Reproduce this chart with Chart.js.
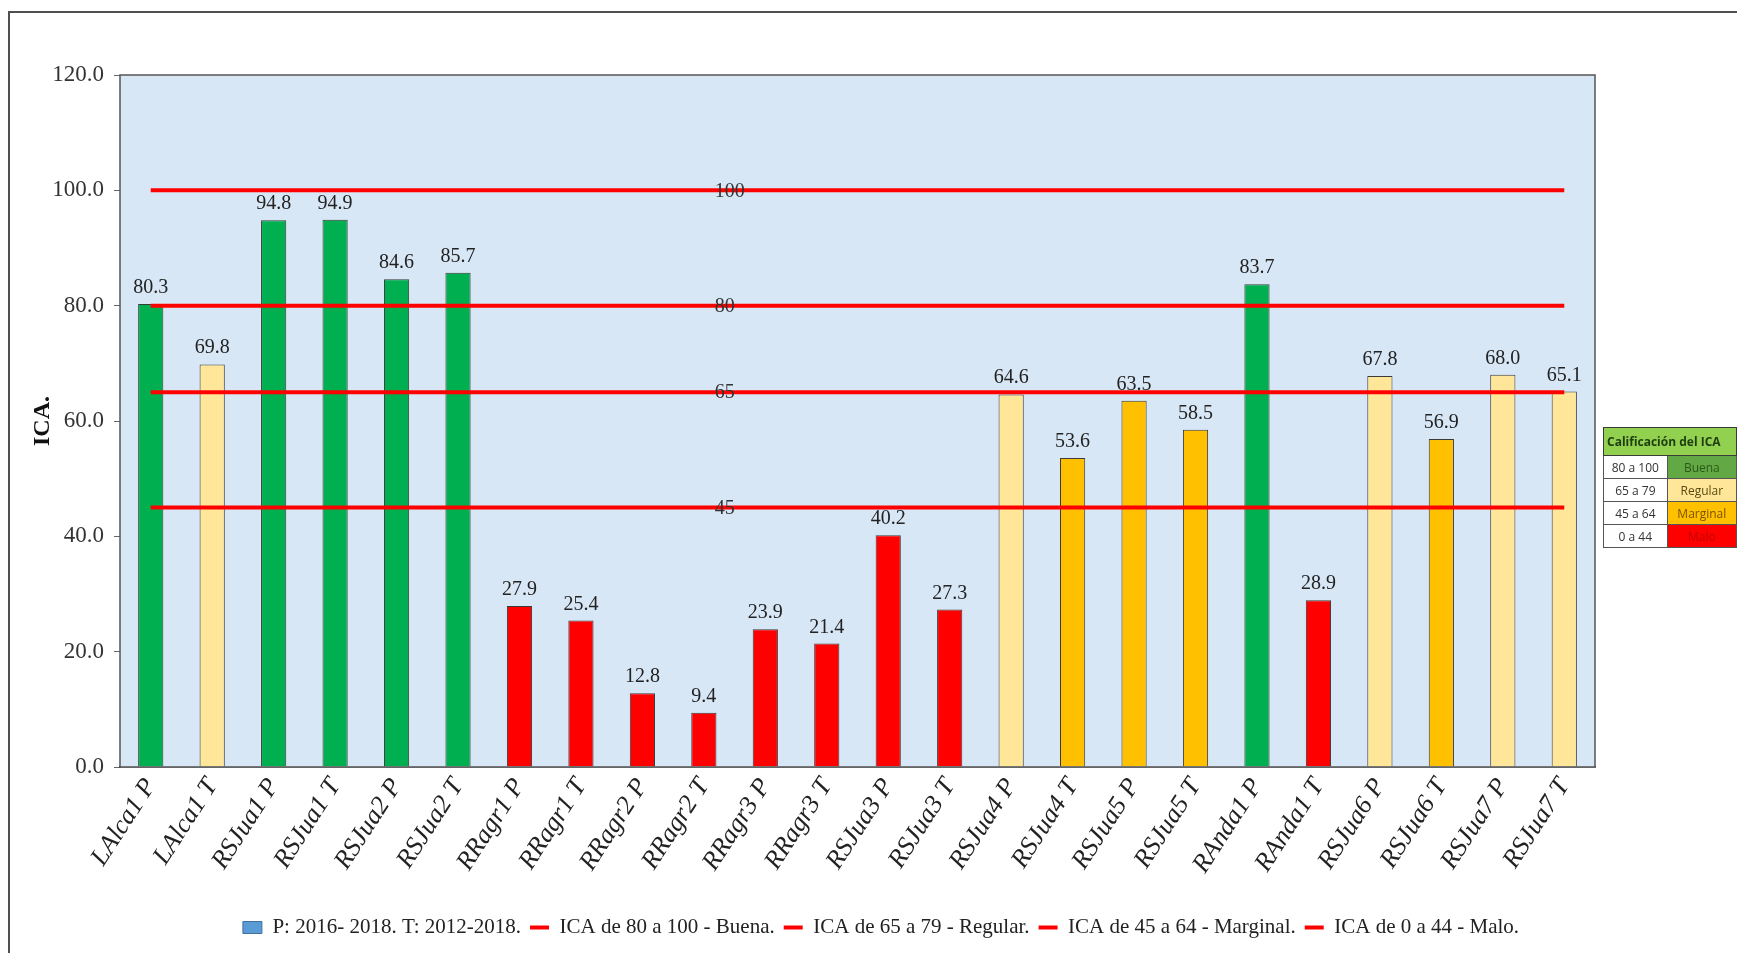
<!DOCTYPE html>
<html>
<head>
<meta charset="utf-8">
<title>ICA</title>
<script src="https://cdn.jsdelivr.net/npm/chart.js@4.4.0/dist/chart.umd.min.js"></script>
<style>
  html, body { margin: 0; padding: 0; background: #fff; overflow: hidden; width: 1737px; height: 953px; }
  #frame { position: absolute; left: 8px; top: 11px; width: 2000px; height: 2000px; border: 2px solid #505050; }
  #wrap { position: absolute; left: 0; top: 0; width: 1737px; height: 953px; }
  #calif { position: absolute; left: 1603px; top: 427px; border-collapse: collapse; table-layout: fixed;
           font-family: "Open Sans", "Liberation Sans", sans-serif; font-size: 12px; color: #333; }
  #calif th { background: #92d050; color: #1e3d10; height: 27px; padding: 0 3px; text-align: left;
              border: 1.5px solid #3a3a3a; white-space: nowrap; font-weight: bold; }
  #calif td { height: 22px; border: 1px solid #555; text-align: center; padding: 0; white-space: nowrap; background: #fff; }
  #calif td.c0 { width: 72px; }
  #calif td.c1 { width: 80px; }
  #calif td.buena { background: #62a844; color: #2d5a1a; }
  #calif td.regular { background: #ffe699; color: #5a4a10; }
  #calif td.marginal { background: #ffc000; color: #7a5200; }
  #calif td.malo { background: #ff0000; color: #c00000; }
</style>
</head>
<body>
<div id="frame"></div>
<div id="wrap"><canvas id="mainChart"></canvas></div>
<table id="calif"></table>
<script>
// stations (P: 2016-2018, T: 2012-2018)
const categories = ['LAlca1 P', 'LAlca1 T', 'RSJua1 P', 'RSJua1 T', 'RSJua2 P', 'RSJua2 T',
  'RRagr1 P', 'RRagr1 T', 'RRagr2 P', 'RRagr2 T', 'RRagr3 P', 'RRagr3 T',
  'RSJua3 P', 'RSJua3 T', 'RSJua4 P', 'RSJua4 T', 'RSJua5 P', 'RSJua5 T',
  'RAnda1 P', 'RAnda1 T', 'RSJua6 P', 'RSJua6 T', 'RSJua7 P', 'RSJua7 T'];
const icaValues = [80.3, 69.8, 94.8, 94.9, 84.6, 85.7,
  27.9, 25.4, 12.8, 9.4, 23.9, 21.4,
  40.2, 27.3, 64.6, 53.6, 63.5, 58.5,
  83.7, 28.9, 67.8, 56.9, 68.0, 65.1];
const seriesName = 'P: 2016- 2018. T: 2012-2018.';

const thresholds = [100, 80, 65, 45];
const thresholdNames = ['ICA de 80 a 100 - Buena.', 'ICA de 65 a 79 - Regular.',
  'ICA de 45 a 64 - Marginal.', 'ICA de 0 a 44 - Malo.'];
const thresholdLabelAt = 9;

const ratingRanges = ['80 a 100', '65 a 79', '45 a 64', '0 a 44'];
const ratingNames = ['Buena', 'Regular', 'Marginal', 'Malo'];

function ratingColor(v) {
  var r = Math.round(v);
  if (r >= 80) return '#00b050';
  if (r >= 65) return '#ffe699';
  if (r >= 45) return '#ffc000';
  return '#ff0000';
}

// side table
var tbl = document.getElementById('calif');
var html = '<tr><th colspan="2">Calificación del ICA</th></tr>';
for (var i = 0; i < ratingRanges.length; i++) {
  html += '<tr><td class="c0">' + ratingRanges[i] + '</td><td class="c1 ' +
    ratingNames[i].toLowerCase() + '">' + ratingNames[i] + '</td></tr>';
}
tbl.innerHTML = html;

const datasets = [{
  type: 'bar',
  label: seriesName,
  data: icaValues,
  backgroundColor: icaValues.map(ratingColor),
  borderColor: '#3a3a3a',
  borderWidth: 1,
  barPercentage: 0.41,
  categoryPercentage: 1,
  order: 2
}];
thresholds.forEach(function(t, k) {
  datasets.push({
    type: 'line',
    label: thresholdNames[k],
    data: categories.map(function() { return t; }),
    borderColor: '#ff0000',
    borderWidth: 4,
    pointRadius: 0,
    tension: 0,
    order: 1
  });
});

const plotBox = {
  id: 'plotBox',
  beforeDatasetsDraw: function(chart) {
    var a = chart.chartArea, ctx = chart.ctx;
    ctx.save();
    ctx.fillStyle = '#d8e7f6';
    ctx.fillRect(a.left, a.top, a.right - a.left, a.bottom - a.top);
    ctx.restore();
  },
  afterDraw: function(chart) {
    var a = chart.chartArea, ctx = chart.ctx;
    ctx.save();
    ctx.strokeStyle = '#555';
    ctx.lineWidth = 1.5;
    ctx.strokeRect(a.left, a.top, a.right - a.left, a.bottom - a.top);
    ctx.restore();
  }
};

const valueLabels = {
  id: 'valueLabels',
  afterDatasetsDraw: function(chart) {
    var ctx = chart.ctx;
    ctx.save();
    ctx.font = '20px "Liberation Serif"';
    ctx.fillStyle = '#222';
    ctx.textAlign = 'center';
    ctx.textBaseline = 'alphabetic';
    chart.getDatasetMeta(0).data.forEach(function(bar, i) {
      ctx.fillText(icaValues[i].toFixed(1), bar.x, bar.y - 11);
    });
    ctx.textAlign = 'left';
    ctx.textBaseline = 'middle';
    ctx.fillStyle = '#333';
    thresholds.forEach(function(t, k) {
      var pt = chart.getDatasetMeta(k + 1).data[thresholdLabelAt];
      ctx.fillText(String(t), pt.x + 11, pt.y + 1);
    });
    ctx.restore();
  }
};

Chart.defaults.font.family = '"Liberation Serif", "Times New Roman", serif';
Chart.defaults.color = '#222';

const myChart = new Chart(document.getElementById('mainChart'), {
  data: { labels: categories, datasets: datasets },
  options: {
    responsive: true,
    maintainAspectRatio: false,
    animation: false,
    layout: { padding: { left: 25, right: 0, top: 75, bottom: 5 } },
    plugins: {
      tooltip: { enabled: false },
      legend: {
        position: 'bottom',
        labels: {
          font: { size: 21 },
          color: '#222',
          usePointStyle: true,
          pointStyleWidth: 19,
          boxHeight: 12,
          padding: 9,
          generateLabels: function(chart) {
            return chart.data.datasets.map(function(ds, i) {
              var isBar = ds.type === 'bar';
              return {
                text: ds.label,
                fillStyle: isBar ? '#5b9bd5' : '#ff0000',
                strokeStyle: isBar ? '#41719c' : '#ff0000',
                lineWidth: isBar ? 1 : 4,
                pointStyle: isBar ? 'rect' : 'line',
                hidden: false,
                datasetIndex: i,
                fontColor: '#222'
              };
            });
          }
        }
      }
    },
    scales: {
      x: {
        grid: { display: false, drawTicks: false },
        border: { display: true, color: '#333', width: 1.5 },
        ticks: {
          autoSkip: false,
          maxRotation: 57,
          minRotation: 57,
          padding: 6,
          color: '#222',
          font: { size: 26, style: 'italic' }
        },
        afterFit: function(s) { s.height = 141; }
      },
      y: {
        min: 0,
        max: 120,
        ticks: {
          stepSize: 20,
          padding: 10,
          color: '#333',
          font: { size: 23 },
          callback: function(v) { return Number(v).toFixed(1); }
        },
        grid: { drawOnChartArea: false, drawTicks: true, tickLength: 6, color: '#666' },
        border: { color: '#555' },
        title: {
          display: true,
          text: 'ICA.',
          color: '#111',
          padding: { top: 3, bottom: 4 },
          font: { size: 24, weight: 'bold' }
        },
        afterFit: function(s) { s.width = 95; }
      },
      y2: {
        position: 'right',
        ticks: { display: false },
        grid: { display: false },
        border: { display: false },
        afterFit: function(s) { s.width = 142; }
      }
    }
  },
  plugins: [plotBox, valueLabels]
});
</script>
</body>
</html>
